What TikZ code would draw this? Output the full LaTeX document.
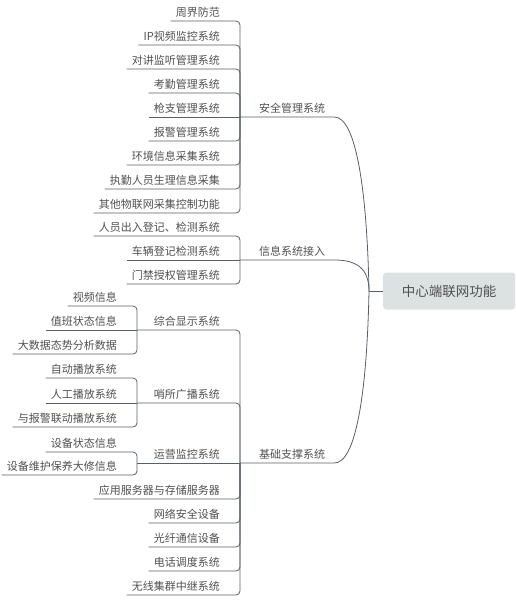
\documentclass[tikz,border=0pt]{standalone}
\usepackage{fontspec}
\newfontfamily\cjk{Noto Sans CJK SC}
\definecolor{ln}{HTML}{56606A}
\definecolor{txt}{HTML}{505050}
\definecolor{rootfill}{HTML}{DCE2E2}
\tikzset{
  leaf/.style={anchor=south east, inner xsep=5pt, inner ysep=2.5pt, text height=9pt, text depth=1.5pt,
    font=\cjk\fontsize{11}{13}\selectfont, text=txt},
  topic/.style={anchor=south west, inner xsep=5pt, inner ysep=2.5pt, text height=9pt, text depth=1.5pt,
    font=\cjk\fontsize{11}{13}\selectfont, text=txt},
  rootbox/.style={fill=rootfill, rounded corners=3pt, minimum width=132pt, minimum height=37pt,
    font=\cjk\fontsize{13.5}{15}\selectfont, text=txt, anchor=west},
  link/.style={draw=ln, line width=0.8pt, rounded corners=4pt},
}
\begin{document}
\begin{tikzpicture}[x=1pt,y=-1pt]
\useasboundingbox (0,0) rectangle (515,603);

% root
\node[rootbox] (root) at (383,291) {中心端联网功能};
\coordinate (hub) at (369,291);

% level 1
\node[topic] (a) at (254,117) {安全管理系统};
\node[topic] (b) at (254,260) {信息系统接入};
\node[topic] (c) at (254,463) {基础支撑系统};
\coordinate (sa) at (240,117);
\coordinate (sb) at (240,260);
\coordinate (sc) at (240,463);

\draw[link] (sa) -- (a.south east) .. controls (356,117) and (367,190) .. (hub);
\draw[link] (sb) -- (b.south east) .. controls (356,260) and (369,268) .. (hub);
\draw[link] (sc) -- (c.south east) .. controls (356,463) and (367,392) .. (hub);
\draw[link] (hub) -- (root.west);

% children of 安全管理系统
\node[leaf] (a1) at (225,21) {周界防范};
\node[leaf] (a2) at (225,45) {IP视频监控系统};
\node[leaf] (a3) at (225,69) {对讲监听管理系统};
\node[leaf] (a4) at (225,93) {考勤管理系统};
\node[leaf] (a5) at (225,117) {枪支管理系统};
\node[leaf] (a6) at (225,141) {报警管理系统};
\node[leaf] (a7) at (225,165) {环境信息采集系统};
\node[leaf] (a8) at (225,189) {执勤人员生理信息采集};
\node[leaf] (a9) at (225,213) {其他物联网采集控制功能};
\foreach \n in {a1,a2,a3,a4,a6,a7,a8,a9}
  \draw[link] (\n.south west) -- (\n.south west -| sa) -- (sa);
\draw[link] (a5.south west) -- (sa);

% children of 信息系统接入
\node[leaf] (b1) at (225,236) {人员出入登记、检测系统};
\node[leaf] (b2) at (225,260) {车辆登记检测系统};
\node[leaf] (b3) at (225,284) {门禁授权管理系统};
\foreach \n in {b1,b3}
  \draw[link] (\n.south west) -- (\n.south west -| sb) -- (sb);
\draw[link] (b2.south west) -- (sb);

% children of 基础支撑系统
\node[leaf] (c1) at (225,330) {综合显示系统};
\node[leaf] (c2) at (225,403) {哨所广播系统};
\node[leaf] (c3) at (225,463) {运营监控系统};
\node[leaf] (c4) at (225,499) {应用服务器与存储服务器};
\node[leaf] (c5) at (225,523) {网络安全设备};
\node[leaf] (c6) at (225,547) {光纤通信设备};
\node[leaf] (c7) at (225,571) {电话调度系统};
\node[leaf] (c8) at (225,595) {无线集群中继系统};
\coordinate (t1) at (137,330);
\coordinate (t2) at (137,403);
\coordinate (t3) at (137,463);
\draw[link] (t1) -- (t1 -| sc) -- (sc);
\draw[link] (t2) -- (t2 -| sc) -- (sc);
\draw[link] (t3) -- (sc);
\foreach \n in {c4,c5,c6,c7,c8}
  \draw[link] (\n.south west) -- (\n.south west -| sc) -- (sc);

% grandchildren
\node[leaf] (d1) at (122,306) {视频信息};
\node[leaf] (d2) at (122,330) {值班状态信息};
\node[leaf] (d3) at (122,354) {大数据态势分析数据};
\node[leaf] (e1) at (122,378) {自动播放系统};
\node[leaf] (e2) at (122,403) {人工播放系统};
\node[leaf] (e3) at (122,427) {与报警联动播放系统};
\node[leaf] (f1) at (122,452) {设备状态信息};
\node[leaf] (f2) at (122,475) {设备维护保养大修信息};
\foreach \n in {d1,d3}
  \draw[link] (\n.south west) -- (\n.south west -| t1) -- (t1);
\draw[link] (d2.south west) -- (t1);
\foreach \n in {e1,e3}
  \draw[link] (\n.south west) -- (\n.south west -| t2) -- (t2);
\draw[link] (e2.south west) -- (t2);
\foreach \n in {f1,f2}
  \draw[link] (\n.south west) -- (\n.south west -| t3) -- (t3);
\end{tikzpicture}
\end{document}
